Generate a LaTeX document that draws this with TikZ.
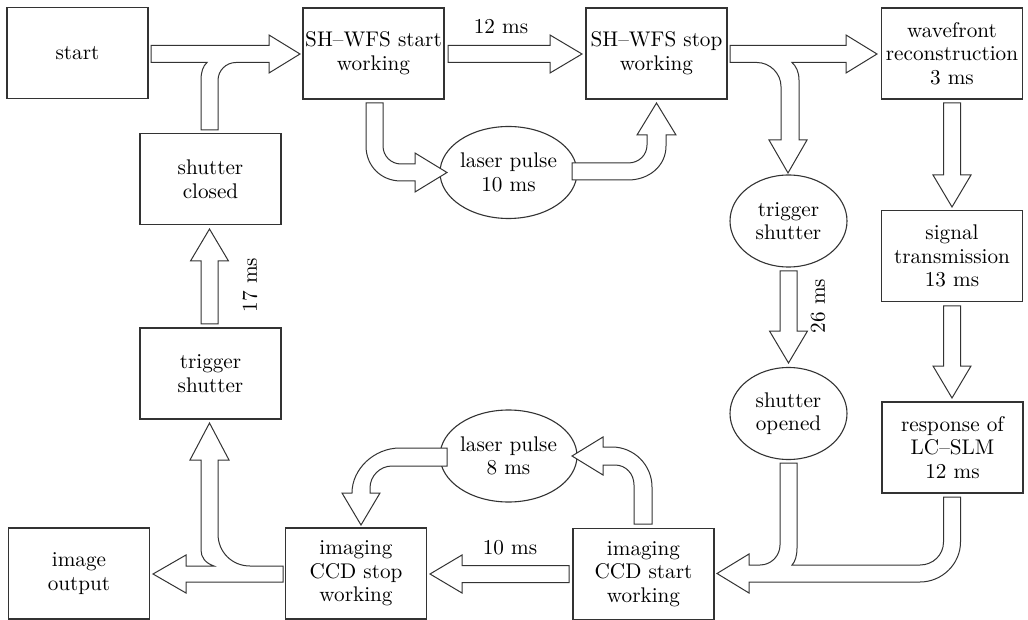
\documentclass[tikz,border=0pt]{standalone}
\usetikzlibrary{shapes.geometric}
\newcommand\myfont{\fontsize{10.6}{11.8}\selectfont}
\newcommand\fatH[3]{\pgfmathsetmacro\myhb{#2-32*sign(#2-#1)}%
 \draw[fat] (#1,{#3-8.5}) -- (\myhb,{#3-8.5}) -- (\myhb,{#3-19}) -- (#2,#3) -- (\myhb,{#3+19}) -- (\myhb,{#3+8.5}) -- (#1,{#3+8.5}) -- cycle;}
\newcommand\fatV[3]{\pgfmathsetmacro\myvb{#3-32*sign(#3-#2)}%
 \draw[fat] ({#1-8.5},#2) -- ({#1-8.5},\myvb) -- ({#1-19},\myvb) -- (#1,#3) -- ({#1+19},\myvb) -- ({#1+8.5},\myvb) -- ({#1+8.5},#2) -- cycle;}
\tikzset{
 box/.style={draw=black!80, line width=0.55pt, minimum width=70.5pt, minimum height=45.5pt, inner sep=0pt, align=center, font=\myfont},
 oval/.style={ellipse, draw=black!80, line width=0.55pt, minimum width=58.5pt, minimum height=46pt, inner sep=0pt, align=center, font=\myfont},
 fat/.style={draw=black!80, line width=0.5pt, fill=white, line join=miter},
 lbl/.style={font=\myfont, inner sep=0pt}
}
\begin{document}
\begin{tikzpicture}[x=0.5pt,y=-0.5pt]
\useasboundingbox[fill=white] (0,0) rectangle (1028,620);
% boxes
\node[box] (start) at (77.5,53) {start};
\node[box] (shs) at (373.5,53.5) {SH--WFS start\\working};
\node[box] (shp) at (656.5,53.5) {SH--WFS stop\\working};
\node[box] (wf) at (952,53.5) {wavefront\\reconstruction\\3 ms};
\node[box] (sig) at (952,256) {signal\\transmission\\13 ms};
\node[box] (resp) at (952.5,447.5) {response of\\LC--SLM\\12 ms};
\node[box] (ccds) at (643.5,574) {imaging\\CCD start\\working};
\node[box] (ccdp) at (356,573.5) {imaging\\CCD stop\\working};
\node[box] (out) at (79,573.5) {image\\output};
\node[box] (trl) at (210.5,373.5) {trigger\\shutter};
\node[box] (clo) at (210.5,179) {shutter\\closed};
% ovals
\node[oval] (lp1) at (508.5,172.5) {laser pulse\\10 ms};
\node[oval] (trr) at (788.5,221) {trigger\\shutter};
\node[oval] (ope) at (788.5,413.5) {shutter\\opened};
\node[oval] (lp2) at (508.5,456) {laser pulse\\8 ms};
% labels
\node[lbl] (l12) at (501,27) {12 ms};
\node[lbl] (l10) at (510,548) {10 ms};
\node[lbl,rotate=90] (l17) at (250,285) {17 ms};
\node[lbl,rotate=90] (l26) at (818,306) {26 ms};
% A: start -> SH start, with branch from shutter closed
\draw[fat] (151,45.5) -- (269,45.5) -- (269,35) -- (300,54) -- (269,73) -- (269,62.5) -- (236,62.5)
  .. controls (226,62.5) and (218,70.5) .. (218,80.5) -- (218,130) -- (201,130) -- (201,80)
  .. controls (201,72) and (203,66) .. (207,62.5) -- (151,62.5) -- cycle;
% B: 12 ms
\fatH{448}{582}{54}
% C: SH stop -> wavefront, branch down to trigger shutter
\draw[fat] (730,45.5) -- (846,45.5) -- (846,35) -- (877,54) -- (846,73) -- (846,62.5) -- (792,62.5)
  .. controls (796,66) and (799,72) .. (799,80) -- (799,140) -- (807,140) -- (788,173) -- (769,140) -- (781,140)
  -- (781,86.5) .. controls (781,73.5) and (770,62.5) .. (757,62.5) -- (730,62.5) -- cycle;
% D, E, F: vertical
\fatV{952}{103}{207}
\fatV{952}{306}{398}
\fatV{788.5}{271}{363}
% G: response -> CCD start, branch from shutter opened
\draw[fat] (943.5,497) -- (960.5,497) -- (960.5,542) .. controls (960.5,564) and (942,582) .. (920,582)
  -- (749,582) -- (749,593) -- (717,573.5) -- (749,554) -- (749,565) -- (760,565)
  .. controls (771,565) and (780,556) .. (780,545) -- (780,463) -- (797,463) -- (797,548)
  .. controls (797,556) and (795,562) .. (792,565) -- (920,565)
  .. controls (933,565) and (943.5,555) .. (943.5,542) -- cycle;
% H: 10 ms
\fatH{569}{430}{574}
% I: CCD start -> laser pulse 8
\draw[fat] (634,524) -- (634,485) .. controls (634,474) and (626,465) .. (615,465) -- (603,465) -- (603,475)
  -- (572,456) -- (603,437) -- (603,447) -- (612,447) .. controls (634,447) and (652,465) .. (652,487)
  -- (652,524) -- cycle;
% J: laser pulse 8 -> CCD stop
\draw[fat] (447,448) -- (400,448) .. controls (374,448) and (352,469) .. (352,493) -- (342,493) -- (361,525)
  -- (380,493) -- (370,493) -- (370,488) .. controls (370,476) and (380,466) .. (392,466) -- (447,466) -- cycle;
% K: CCD stop -> image output, branch up to trigger shutter
\draw[fat] (283,566) -- (250,566) .. controls (232,566) and (218,552) .. (218,534) -- (218,460) -- (229,460)
  -- (209.5,423) -- (190,460) -- (201,460) -- (201,550) .. controls (201,557) and (205,563) .. (214,566)
  -- (186,566) -- (186,555) -- (153,574) -- (186,593) -- (186,582) -- (283,582) -- cycle;
% L: 17 ms
\fatV{209.5}{324}{229}
% M: SH start -> laser pulse 10
\draw[fat] (366,103) -- (383,103) -- (383,146) .. controls (383,156) and (391,164) .. (401,164) -- (415,164)
  -- (415,153) -- (447,172.5) -- (415,192) -- (415,181) -- (401,181) .. controls (381,181) and (366,166) .. (366,146) -- cycle;
% N: laser pulse 10 -> SH stop
\draw[fat] (572,163) -- (628,163) .. controls (639,163) and (647,155) .. (647,145) -- (647,135) -- (637,135)
  -- (656.5,103) -- (676,135) -- (666,135) -- (666,146) .. controls (666,166) and (649,180) .. (628,180)
  -- (572,180) -- cycle;
\end{tikzpicture}
\end{document}
